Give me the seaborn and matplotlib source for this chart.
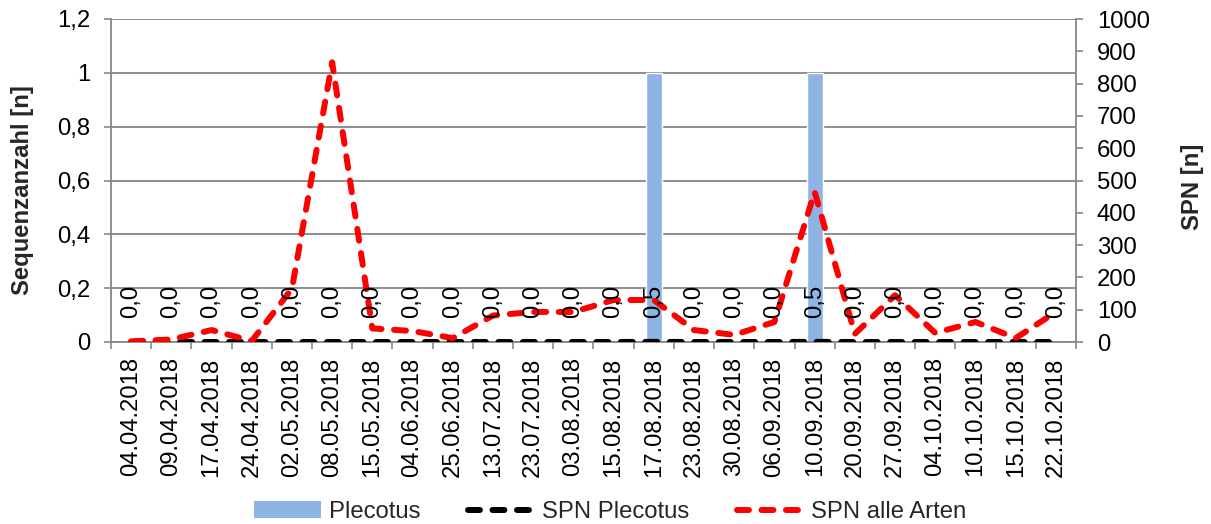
import matplotlib
matplotlib.use("Agg")
import matplotlib.pyplot as plt
import seaborn as sns
import pandas as pd
from matplotlib.patches import Patch
from matplotlib.lines import Line2D

# ---------------- data ----------------
dates = ["04.04.2018", "09.04.2018", "17.04.2018", "24.04.2018", "02.05.2018", "08.05.2018",
         "15.05.2018", "04.06.2018", "25.06.2018", "13.07.2018", "23.07.2018", "03.08.2018",
         "15.08.2018", "17.08.2018", "23.08.2018", "30.08.2018", "06.09.2018", "10.09.2018",
         "20.09.2018", "27.09.2018", "04.10.2018", "10.10.2018", "15.10.2018", "22.10.2018"]
plecotus = [0, 0, 0, 0, 0, 0, 0, 0, 0, 0, 0, 0, 0, 1, 0, 0, 0, 1, 0, 0, 0, 0, 0, 0]
spn_plecotus = [0, 0, 0, 0, 0, 0, 0, 0, 0, 0, 0, 0, 0, 0.5, 0, 0, 0, 0.5, 0, 0, 0, 0, 0, 0]
spn_alle = [2, 8, 37, 3, 165, 866, 42, 34, 12, 82, 93, 93,
            130, 130, 37, 22, 62, 465, 25, 145, 28, 62, 12, 93]
left_ticks = [0, 0.2, 0.4, 0.6, 0.8, 1.0, 1.2]
left_tick_labels = ["0", "0,2", "0,4", "0,6", "0,8", "1", "1,2"]
right_ticks = [0, 100, 200, 300, 400, 500, 600, 700, 800, 900, 1000]
series_names = ["Plecotus", "SPN Plecotus", "SPN alle Arten"]

# ---------------- style ----------------
BAR_COLOR = "#8EB4E3"
GRID = "#868686"
FS = 17.2
DASH = (0, (2.0, 2.1))

sns.set_theme(style="white")
plt.rcParams["font.family"] = ["Liberation Sans", "DejaVu Sans"]

df = pd.DataFrame({"Datum": dates, "Plecotus": plecotus,
                   "SPN Plecotus": spn_plecotus, "SPN alle Arten": spn_alle})

fig = plt.figure(figsize=(12.11, 5.24), dpi=100)
ax = fig.add_axes([111 / 1211, 1 - 342 / 524, 965 / 1211, 323 / 524])

sns.barplot(data=df, x="Datum", y="Plecotus", ax=ax, color=BAR_COLOR,
            width=0.4, saturation=1, zorder=2)
ax.set_ylim(0, 1.2)
ax.set_yticks(left_ticks)
ax.set_yticklabels(left_tick_labels)
ax.set_axisbelow(True)
ax.yaxis.grid(True, color=GRID, lw=1.3)
ax.xaxis.grid(False)
ax.set_xlabel("")
ax.set_ylabel("")

ax2 = ax.twinx()
dash_kw = dict(lw=4.3, dash_capstyle="round")
sns.lineplot(data=df, x=df.index, y="SPN Plecotus", ax=ax2, sort=False,
             color="black", linestyle=DASH, **dash_kw)
sns.lineplot(data=df, x=df.index, y="SPN alle Arten", ax=ax2, sort=False,
             color="#FF0000", linestyle=DASH, **dash_kw)
ax2.set_ylim(0, 1000)
ax2.set_yticks(right_ticks)
ax2.set_ylabel("")
ax2.set_xlabel("")

# data labels of SPN Plecotus
for i, v in enumerate(df["SPN Plecotus"]):
    ax2.annotate(f"{v:.1f}".replace(".", ","), xy=(i, v), xytext=(0, 17),
                 textcoords="offset points", rotation=90, ha="center", va="bottom",
                 fontsize=FS, color="black")

# x axis
ax.set_xlim(-0.5, len(dates) - 0.5)
ax.set_xticks(range(len(dates)))
ax.set_xticklabels(dates, rotation=90)
ax.set_xticks([i - 0.5 for i in range(len(dates) + 1)], minor=True)
ax.tick_params(axis="x", which="major", length=0, pad=11, labelsize=FS, colors="black")
ax.tick_params(axis="x", which="minor", bottom=True, length=5, width=1.2, color=GRID)
ax.tick_params(axis="y", left=True, length=5, width=1.2, color=GRID, pad=10,
               labelsize=FS, labelcolor="black")
ax2.tick_params(axis="y", right=True, length=5, width=1.2, color=GRID, pad=10,
                labelsize=FS, labelcolor="black")

for s in ["top", "right"]:
    ax.spines[s].set_visible(False)
for s in ["left", "bottom"]:
    ax.spines[s].set_color(GRID)
    ax.spines[s].set_linewidth(1.3)
for s in ["top", "left", "bottom"]:
    ax2.spines[s].set_visible(False)
ax2.spines["right"].set_color(GRID)
ax2.spines["right"].set_linewidth(1.3)

# axis titles
fig.text(22.5 / 1211, 1 - 190 / 524, "Sequenzanzahl [n]", rotation=90, ha="center",
         va="center", fontsize=FS, fontweight="bold")
fig.text(1193 / 1211, 1 - 187 / 524, "SPN [n]", rotation=90, ha="center",
         va="center", fontsize=FS, fontweight="bold")

# legend
handles = [Patch(facecolor=BAR_COLOR, edgecolor="none"),
           Line2D([], [], color="black", linestyle=DASH, **dash_kw),
           Line2D([], [], color="#FF0000", linestyle=DASH, **dash_kw)]
fig.legend(handles, series_names, loc="center", bbox_to_anchor=(0.504, 0.023), ncol=3,
           frameon=False, handlelength=2.8, handletextpad=0.3, columnspacing=2.0,
           fontsize=FS)

fig.savefig("out.png", dpi=100)
